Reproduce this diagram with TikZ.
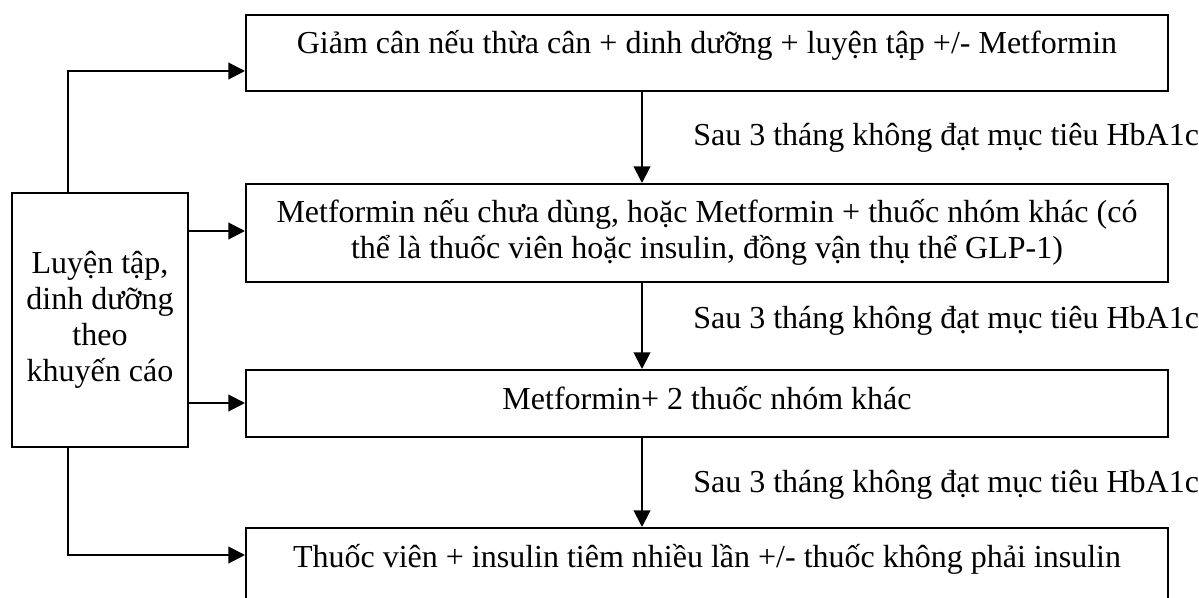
\documentclass[tikz,border=0pt]{standalone}
\usepackage{fontspec}
\setmainfont{Liberation Serif}
\usetikzlibrary{arrows.meta}
\begin{document}
\begin{tikzpicture}[x=0.75pt,y=-0.75pt,
  box/.style={draw, line width=1.5pt, rectangle, inner sep=0pt, anchor=north west},
  txt/.style={inner sep=0pt, font=\fontsize{24}{27}\selectfont, align=center},
  conn/.style={line width=1.5pt, -{Triangle[length=12.5pt,width=12.5pt]}},
  lbl/.style={inner sep=0pt, anchor=base west, font=\fontsize{24}{27}\selectfont}]
\useasboundingbox (0,0) rectangle (1199,598);
\clip (0,0) rectangle (1199,598);
% boxes
\node[box, minimum width=691.5pt, minimum height=57pt] (b1) at (245,14) {};
\node[box, minimum width=691.5pt, minimum height=73.5pt] (b2) at (245,183) {};
\node[box, minimum width=691.5pt, minimum height=50.25pt] (b3) at (245,369) {};
\node[box, minimum width=691.5pt, minimum height=90pt] (b4) at (245,527) {};
\node[box, minimum width=132pt, minimum height=190.5pt, txt] (L) at (11,192)
  {Luyện tập,\\dinh dưỡng\\theo\\khuyến cáo};
% box texts
\node[txt, anchor=base] (t1) at ([yshift=-30pt]b1.north) {Giảm cân nếu thừa cân + dinh dưỡng + luyện tập +/- Metformin};
\node[txt, anchor=base] (t2) at ([yshift=-57pt]b2.north) {Metformin nếu chưa dùng, hoặc Metformin + thuốc nhóm khác (có\\thể là thuốc viên hoặc insulin, đồng vận thụ thể GLP-1)};
\node[txt, anchor=base] (t3) at ([yshift=-30pt]b3.north) {Metformin+ 2 thuốc nhóm khác};
\node[txt, anchor=base] (t4) at ([yshift=-30pt]b4.north) {Thuốc viên + insulin tiêm nhiều lần +/- thuốc không phải insulin};
% labels
\node[lbl] (l1) at (693,146) {Sau 3 tháng không đạt mục tiêu HbA1c};
\node[lbl] (l2) at (693,329) {Sau 3 tháng không đạt mục tiêu HbA1c};
\node[lbl] (l3) at (693,492) {Sau 3 tháng không đạt mục tiêu HbA1c};
% coordinates
\coordinate (c1) at (68,71);
\coordinate (c4) at (68,555);
\coordinate (m2) at (189,231);
\coordinate (m3) at (189,403);
\coordinate (v) at (642,0);
% connectors
\draw[conn] (c1 |- L.north) -- (c1) -- (c1 -| b1.west);
\draw[conn] (c4 |- L.south) -- (c4) -- (c4 -| b4.west);
\draw[conn] (m2) -- (m2 -| b2.west);
\draw[conn] (m3) -- (m3 -| b3.west);
\draw[conn] (v |- b1.south) -- (v |- b2.north);
\draw[conn] (v |- b2.south) -- (v |- b3.north);
\draw[conn] (v |- b3.south) -- (v |- b4.north);
\end{tikzpicture}
\end{document}
